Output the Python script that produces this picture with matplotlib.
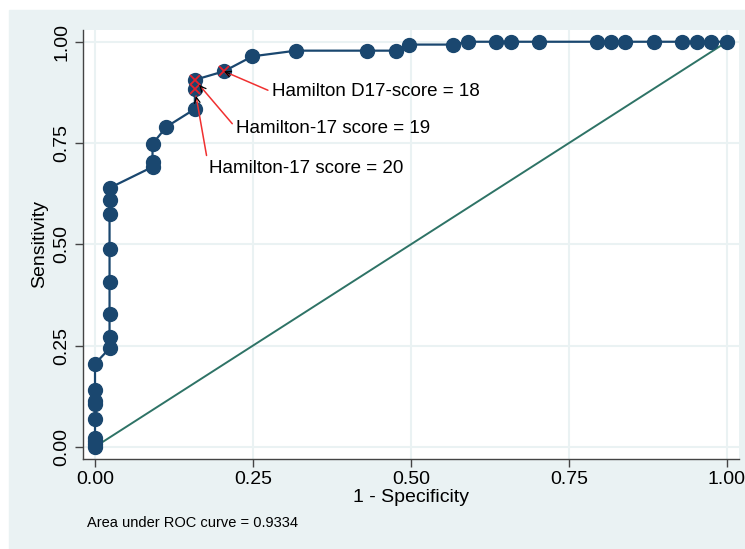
import matplotlib
matplotlib.use("Agg")
import matplotlib.pyplot as plt
from matplotlib.patches import Rectangle

plt.rcParams['font.family'] = ['Liberation Sans', 'DejaVu Sans']

# ROC points (1 - specificity, sensitivity)
fpr = [0.0, 0.0, 0.0, 0.0, 0.0, 0.0, 0.0, 0.0, 0.0,
       0.023, 0.023, 0.023, 0.023, 0.023, 0.023, 0.023, 0.023,
       0.091, 0.091, 0.091, 0.113, 0.158, 0.158, 0.158, 0.204, 0.249,
       0.318, 0.431, 0.477, 0.497, 0.566,
       0.590, 0.635, 0.658, 0.703, 0.794, 0.816, 0.839, 0.885,
       0.929, 0.952, 0.975, 1.0]
tpr = [0.0, 0.007, 0.014, 0.021, 0.069, 0.106, 0.114, 0.141, 0.205,
       0.243, 0.272, 0.329, 0.408, 0.488, 0.574, 0.609, 0.639,
       0.691, 0.704, 0.748, 0.790, 0.834, 0.883, 0.906, 0.927, 0.964,
       0.978, 0.978, 0.978, 0.993, 0.993,
       1.0, 1.0, 1.0, 1.0, 1.0, 1.0, 1.0, 1.0,
       1.0, 1.0, 1.0, 1.0]

# highlighted cut-offs
cut_labels = ["Hamilton D17-score = 18", "Hamilton-17 score = 19", "Hamilton-17 score = 20"]
cut_x = [0.204, 0.158, 0.158]
cut_y = [0.927, 0.906, 0.883]
label_x = [0.280, 0.223, 0.180]
label_y = [0.876, 0.787, 0.688]

ticks = [0.0, 0.25, 0.5, 0.75, 1.0]
tick_text = ["0.00", "0.25", "0.50", "0.75", "1.00"]
auc = 0.9334

bg = '#EAF2F3'
navy = '#1A476F'

fig = plt.figure(figsize=(7.45, 5.49), dpi=100, facecolor='white')
fig.patches.append(Rectangle((9 / 745, 0), 1 - 9 / 745, 1 - 10 / 549,
                             transform=fig.transFigure, color=bg, zorder=-1))
ax = fig.add_axes([83 / 745, 1 - 459 / 549, (739 - 83) / 745, (459 - 30) / 549])
ax.set_facecolor('white')

ax.plot([0, 1], [0, 1], color='#2E7366', lw=1.4, zorder=2)
ax.plot(fpr, tpr, color=navy, lw=1.6, marker='o', ms=10, mfc=navy, mec=navy, zorder=3)
ax.plot(cut_x, cut_y, ls='', marker='x', ms=7.5, mew=1.3, color='#E8202A', zorder=4)

for t, px, py, lx, ly in zip(cut_labels, cut_x, cut_y, label_x, label_y):
    ax.annotate(t, xy=(px, py), xytext=(lx, ly), fontsize=13.5, ha='left', va='center',
                arrowprops=dict(arrowstyle='-', color='#F03030', lw=1.1,
                                relpos=(0, 0.5), shrinkA=1, shrinkB=5), zorder=5)
    # small black arrow head at the point end
    hx = px + 0.12 * (lx - px)
    hy = py + 0.12 * (ly - py)
    ax.annotate('', xy=(px, py), xytext=(hx, hy),
                arrowprops=dict(arrowstyle='->', color='black', lw=0.9,
                                mutation_scale=10, shrinkA=0, shrinkB=5), zorder=6)

ax.set_xlim(-0.019, 1.019)
ax.set_ylim(-0.030, 1.029)
ax.set_xticks(ticks)
ax.set_xticklabels(tick_text, fontsize=14)
ax.set_yticks(ticks)
ax.set_yticklabels(tick_text, fontsize=14, rotation=90, va='center')
ax.grid(True, color=bg, lw=1.5, zorder=0)
ax.set_axisbelow(True)
ax.tick_params(length=6, width=1, color='#444444', pad=3)
for s in ['top', 'right']:
    ax.spines[s].set_visible(False)
for s in ['left', 'bottom']:
    ax.spines[s].set_color('#444444')
    ax.spines[s].set_linewidth(1)

ax.set_xlabel("1 - Specificity", fontsize=14, labelpad=0)
ax.set_ylabel("Sensitivity", fontsize=14, labelpad=4)

fig.text(87 / 745, 1 - 523 / 549, "Area under ROC curve = %.4f" % auc, fontsize=10.5,
         ha='left', va='center')

fig.savefig('out.png', dpi=100, facecolor=fig.get_facecolor())
